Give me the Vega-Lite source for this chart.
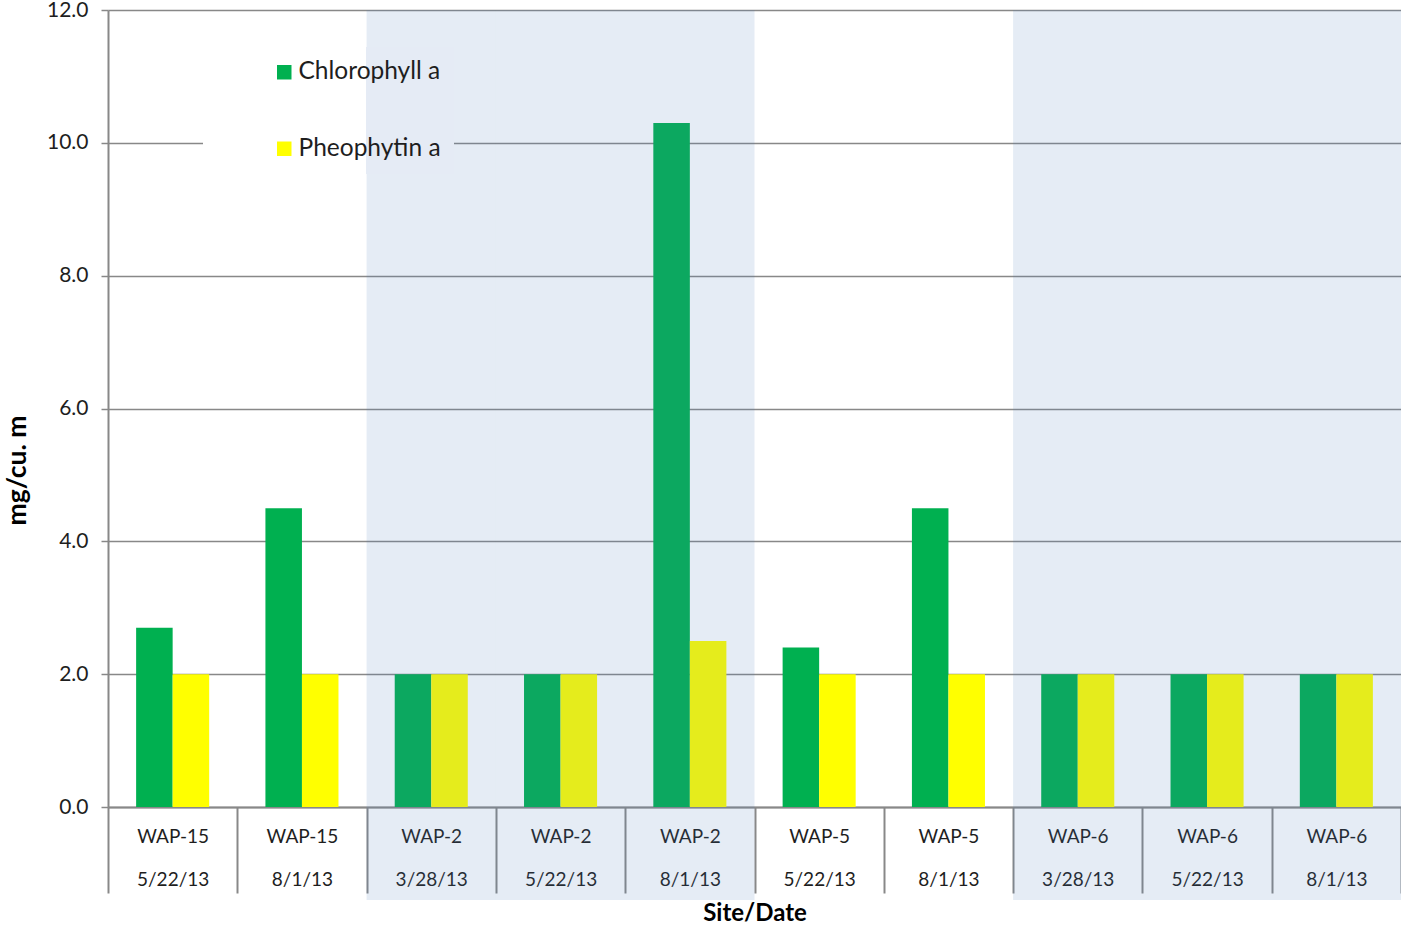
{
  "$schema": "https://vega.github.io/schema/vega-lite/v6.json",
  "width": 1293,
  "height": 797,
  "autosize": {"type": "none"},
  "padding": {"left": 108, "top": 10, "right": 0, "bottom": 118},
  "background": "white",
  "config": {"font": "Lato", "view": {"stroke": null}},
  "data": {
    "values": [
      {"sample": "WAP-15 5/22/13", "site": "WAP-15", "date": "5/22/13", "parameter": "Chlorophyll a", "value": 2.7},
      {"sample": "WAP-15 5/22/13", "site": "WAP-15", "date": "5/22/13", "parameter": "Pheophytin a", "value": 2.0},
      {"sample": "WAP-15 8/1/13", "site": "WAP-15", "date": "8/1/13", "parameter": "Chlorophyll a", "value": 4.5},
      {"sample": "WAP-15 8/1/13", "site": "WAP-15", "date": "8/1/13", "parameter": "Pheophytin a", "value": 2.0},
      {"sample": "WAP-2 3/28/13", "site": "WAP-2", "date": "3/28/13", "parameter": "Chlorophyll a", "value": 2.0},
      {"sample": "WAP-2 3/28/13", "site": "WAP-2", "date": "3/28/13", "parameter": "Pheophytin a", "value": 2.0},
      {"sample": "WAP-2 5/22/13", "site": "WAP-2", "date": "5/22/13", "parameter": "Chlorophyll a", "value": 2.0},
      {"sample": "WAP-2 5/22/13", "site": "WAP-2", "date": "5/22/13", "parameter": "Pheophytin a", "value": 2.0},
      {"sample": "WAP-2 8/1/13", "site": "WAP-2", "date": "8/1/13", "parameter": "Chlorophyll a", "value": 10.3},
      {"sample": "WAP-2 8/1/13", "site": "WAP-2", "date": "8/1/13", "parameter": "Pheophytin a", "value": 2.5},
      {"sample": "WAP-5 5/22/13", "site": "WAP-5", "date": "5/22/13", "parameter": "Chlorophyll a", "value": 2.4},
      {"sample": "WAP-5 5/22/13", "site": "WAP-5", "date": "5/22/13", "parameter": "Pheophytin a", "value": 2.0},
      {"sample": "WAP-5 8/1/13", "site": "WAP-5", "date": "8/1/13", "parameter": "Chlorophyll a", "value": 4.5},
      {"sample": "WAP-5 8/1/13", "site": "WAP-5", "date": "8/1/13", "parameter": "Pheophytin a", "value": 2.0},
      {"sample": "WAP-6 3/28/13", "site": "WAP-6", "date": "3/28/13", "parameter": "Chlorophyll a", "value": 2.0},
      {"sample": "WAP-6 3/28/13", "site": "WAP-6", "date": "3/28/13", "parameter": "Pheophytin a", "value": 2.0},
      {"sample": "WAP-6 5/22/13", "site": "WAP-6", "date": "5/22/13", "parameter": "Chlorophyll a", "value": 2.0},
      {"sample": "WAP-6 5/22/13", "site": "WAP-6", "date": "5/22/13", "parameter": "Pheophytin a", "value": 2.0},
      {"sample": "WAP-6 8/1/13", "site": "WAP-6", "date": "8/1/13", "parameter": "Chlorophyll a", "value": 2.0},
      {"sample": "WAP-6 8/1/13", "site": "WAP-6", "date": "8/1/13", "parameter": "Pheophytin a", "value": 2.0}
    ]
  },
  "encoding": {
    "x": {
      "field": "sample",
      "type": "nominal",
      "sort": null,
      "scale": {"paddingInner": 0, "paddingOuter": 0},
      "axis": {
        "title": "Site/Date",
        "titleFontSize": 24,
        "titleFontWeight": "bold",
        "titleColor": "#000000",
        "titleY": 106,
        "titleBaseline": "middle",
        "labelExpr": "split(datum.label, ' ')",
        "labelAngle": 0,
        "labelFontSize": 19,
        "labelColor": "#1e1e1e",
        "labelLineHeight": 43,
        "labelBaseline": "top",
        "labelPadding": -66,
        "labelOverlap": false,
        "labelBound": false,
        "tickBand": "extent",
        "tickSize": 86,
        "tickColor": "#888888",
        "tickWidth": 2,
        "domainColor": "#888888",
        "domainWidth": 2,
        "grid": false
      }
    }
  },
  "layer": [
    {
      "mark": {"type": "bar", "clip": false},
      "encoding": {
        "xOffset": {
          "field": "parameter",
          "type": "nominal",
          "scale": {"paddingInner": 0, "paddingOuter": 0.77}
        },
        "y": {
          "field": "value",
          "type": "quantitative",
          "scale": {"domain": [0, 12], "nice": false},
          "axis": {
            "title": "mg/cu. m",
            "titleFontSize": 26.5,
            "titleFontWeight": "bold",
            "titleColor": "#000000",
            "titleX": -91,
            "titleY": 460,
            "titleBaseline": "middle",
            "values": [0, 2, 4, 6, 8, 10, 12],
            "format": ".1f",
            "labelFontSize": 21,
            "labelPadding": 13,
            "labelColor": "#1e1e1e",
            "tickSize": 7,
            "tickColor": "#888888",
            "tickWidth": 1.5,
            "domainColor": "#888888",
            "domainWidth": 2,
            "grid": true,
            "gridColor": "#888888",
            "gridWidth": 1.5
          }
        },
        "color": {
          "field": "parameter",
          "type": "nominal",
          "scale": {"domain": ["Chlorophyll a", "Pheophytin a"], "range": ["#00B050", "#FFFF00"]},
          "legend": {
            "orient": "none",
            "legendX": 95,
            "legendY": 37,
            "title": null,
            "padding": 13,
            "fillColor": {"value": {"gradient": "linear", "x1": 0, "y1": 0, "x2": 1, "y2": 0, "stops": [{"offset": 0, "color": "#ffffff"}, {"offset": 0.651, "color": "#ffffff"}, {"offset": 0.651, "color": "#E5EBF5"}, {"offset": 1, "color": "#E5EBF5"}]}},
            "symbolType": "square",
            "symbolSize": 210,
            "symbolOffset": 56,
            "symbolStrokeWidth": 0,
            "symbolOpacity": 1,
            "labelFontSize": 24.5,
            "labelColor": "#1e1e1e",
            "labelOffset": 2,
            "labelLimit": 400,
            "rowPadding": 51.5
          }
        }
      }
    },
    {
      "transform": [
        {"filter": "datum.parameter == 'Chlorophyll a' && (datum.site == 'WAP-2' || datum.site == 'WAP-6')"}
      ],
      "mark": {"type": "rect", "fill": "#4F81BD", "opacity": 0.15, "clip": false},
      "encoding": {
        "y": {"datum": 12, "type": "quantitative", "scale": {"domain": [0, 12], "nice": false}},
        "y2": {"datum": -1.4}
      }
    }
  ]
}
